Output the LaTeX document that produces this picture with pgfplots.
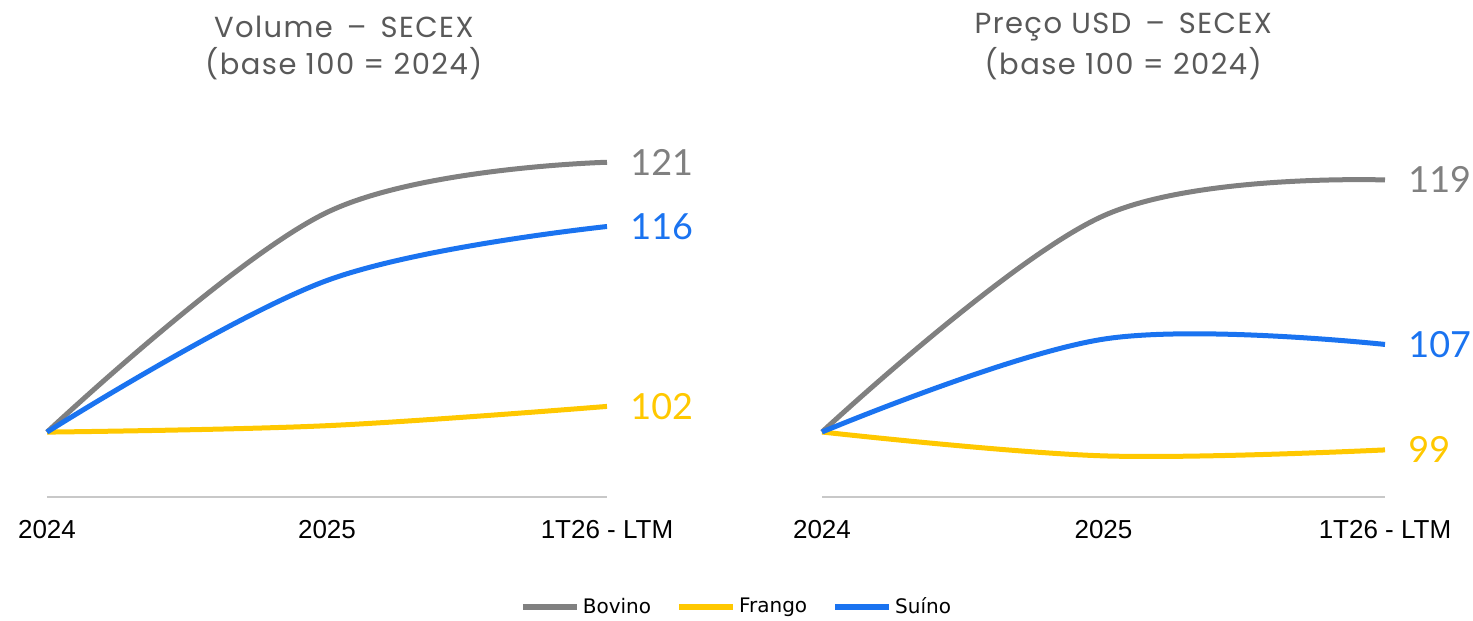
\documentclass[border=0pt]{standalone}
\usepackage{fontspec}
\setmainfont{Lato}
\newfontfamily\headfont[LetterSpace=5]{Poppins}
\newfontfamily\tickfont{Liberation Sans}
\newfontfamily\legfont{DejaVu Sans}
\usepackage{pgfplots}
\pgfplotsset{compat=1.18}

\definecolor{bov}{HTML}{808080}
\definecolor{fra}{HTML}{FFC800}
\definecolor{sui}{HTML}{1A73F0}
\definecolor{axgray}{HTML}{C8C8C8}
\definecolor{titlegray}{HTML}{595959}

\newcommand{\titlefont}{\headfont\fontsize{14.5}{17}\selectfont}
\newcommand{\lastfont}{\fontsize{18}{20}\selectfont}
\newcommand{\tdash}{\hspace{7pt}–\hspace{7pt}}

\pgfplotsset{
  pane/.style={
    scale only axis, width=280pt, height=195pt,
    xmin=0, xmax=2,
    axis x line=bottom, axis y line=none,
    axis line style={-, draw=axgray, line width=1pt},
    xtick={0,1,2}, xticklabels={2024,2025,1T26 - LTM},
    xtick style={draw=none}, major tick length=0pt,
    xticklabel style={font=\tickfont\fontsize{13}{15}\selectfont, text=black, yshift=-8pt},
    clip=false,
    every axis plot/.append style={smooth, tension=0.6, line width=2.5pt, no markers},
  },
}

\begin{document}
\begin{tikzpicture}
\path[use as bounding box] (0pt,0pt) rectangle (736.5pt,310.5pt);

% Volume
\begin{axis}[pane, at={(23.5pt,62pt)}, anchor=south west,
  ymin=94.95, ymax=125.3,
  legend columns=3,
  legend style={at={(1.232,-0.282)}, anchor=center, draw=none, fill=none,
    font=\legfont\fontsize{10}{12}\selectfont,
    nodes={inner sep=1.5pt},
    /tikz/every even column/.append style={column sep=11pt}},
  legend image code/.code={\draw[#1, line width=3pt, sharp plot] (0pt,0pt) -- (27pt,0pt);},
]
\addplot[color=bov] coordinates {(0,100) (1,117.1) (2,121)};
\addplot[color=fra] coordinates {(0,100) (1,100.5) (2,102)};
\addplot[color=sui] coordinates {(0,100) (1,111.8) (2,116)};
\legend{Bovino, Frango, Suíno}
\node[anchor=west, inner sep=0pt, xshift=11.5pt, text=bov, font=\lastfont] at (axis cs:2,121) {121};
\node[anchor=west, inner sep=0pt, xshift=11.5pt, text=sui, font=\lastfont] at (axis cs:2,116) {116};
\node[anchor=west, inner sep=0pt, xshift=11.5pt, text=fra, font=\lastfont] at (axis cs:2,102) {102};
\node[text=titlegray, font=\titlefont] at (rel axis cs:0.53,1.206) {Volume\tdash SECEX};
\node[text=titlegray, font=\titlefont] at (rel axis cs:0.53,1.11) {(base 100 = 2024)};
\end{axis}

% Preco
\begin{axis}[pane, at={(411pt,62pt)}, anchor=south west, width=281.5pt,
  ymin=95.1, ymax=124.5,
]
\addplot[color=bov] coordinates {(0,100) (1,116.3) (2,119)};
\addplot[color=fra] coordinates {(0,100) (1,98.2) (2,98.65)};
\addplot[color=sui] coordinates {(0,100) (1,107.0) (2,106.6)};
\node[anchor=west, inner sep=0pt, xshift=11.5pt, text=bov, font=\lastfont] at (axis cs:2,119) {119};
\node[anchor=west, inner sep=0pt, xshift=11.5pt, text=sui, font=\lastfont] at (axis cs:2,106.6) {107};
\node[anchor=west, inner sep=0pt, xshift=11.5pt, text=fra, font=\lastfont] at (axis cs:2,98.65) {99};
\node[text=titlegray, font=\titlefont] at (rel axis cs:0.535,1.206) {Preço USD\tdash SECEX};
\node[text=titlegray, font=\titlefont] at (rel axis cs:0.535,1.11) {(base 100 = 2024)};
\end{axis}
\end{tikzpicture}
\end{document}
